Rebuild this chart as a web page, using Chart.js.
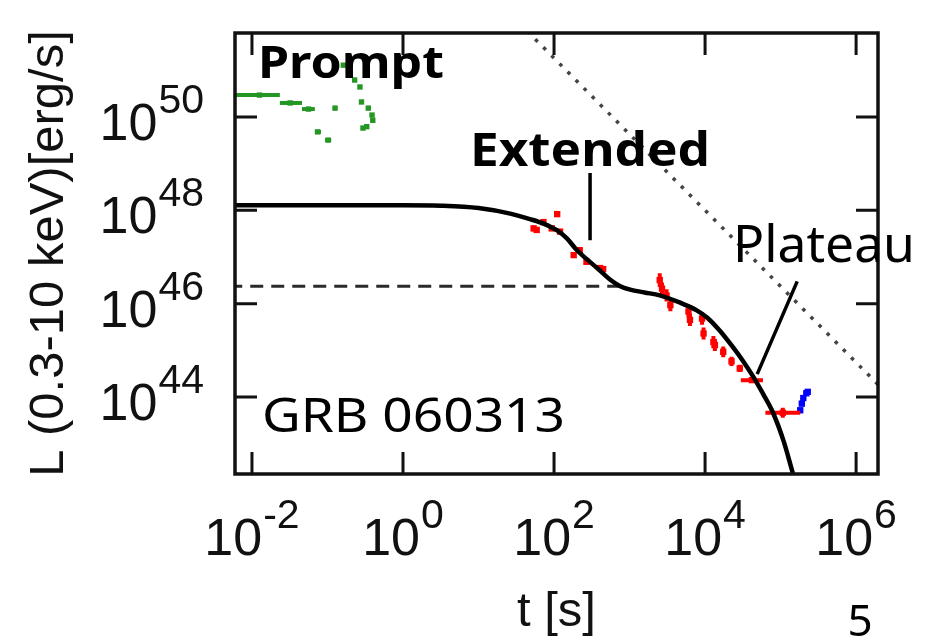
<!DOCTYPE html>
<html>
<head>
<meta charset="utf-8">
<title>GRB 060313 light curve</title>
<script src="https://cdn.jsdelivr.net/npm/chart.js@4.4.1/dist/chart.umd.min.js"></script>
<style>
  html, body { margin: 0; padding: 0; background: #fff; }
  #wrap { width: 937px; height: 639px; }
</style>
</head>
<body>
<div id="wrap"><canvas id="lc" width="937" height="639"></canvas></div>
<script>
// axis range and ticks (every two decades)
const xMin = 5.96e-3, xMax = 1.95e6;
const yMin = 2.24e42, yMax = 6.31e51;
const xTicks = [1e-2, 1, 1e2, 1e4, 1e6];
const xTickExp = ['-2', '0', '2', '4', '6'];
const yTicks = [1e44, 1e46, 1e48, 1e50];
const yTickExp = ['44', '46', '48', '50'];

// BAT prompt emission (green)
const batTime   = [1.26e-2, 3.2e-2, 5.6e-2, 7.4e-2, 1.02e-1, 1.26e-1, 1.62e-1, 2.0e-1, 2.29e-1, 2.69e-1, 2.82e-1, 3.47e-1, 3.89e-1, 3.98e-1, 3.31e-1, 2.95e-1];
const batTimeLo = [5.0e-3, 2.34e-2, 4.6e-2, 6.8e-2, 9.3e-2, 1.18e-1, 1.55e-1, 1.92e-1, 2.2e-1, 2.6e-1, 2.75e-1, 3.37e-1, 3.78e-1, 3.87e-1, 3.2e-1, 2.86e-1];
const batTimeHi = [2.34e-2, 4.6e-2, 6.8e-2, 8.2e-2, 1.12e-1, 1.34e-1, 1.7e-1, 2.08e-1, 2.38e-1, 2.78e-1, 2.9e-1, 3.57e-1, 4.0e-1, 4.1e-1, 3.42e-1, 3.04e-1];
const batLum    = [2.95e50, 2.0e50, 1.48e50, 4.8e49, 3.2e49, 1.55e50, 1.29e51, 8.5e50, 6.2e50, 4.4e50, 2.1e50, 1.55e50, 1.1e50, 8.5e49, 6.2e49, 5.8e49];

// XRT (red); error bars as multiplicative factors
const xrtTime    = [53.7, 58.9, 72.4, 110, 93.3, 120, 182, 219, 269, 407, 447, 2510, 2690, 3090, 3470, 6030, 6310, 9120, 9550, 12900, 13500, 17400, 22400, 28800, 41700, 107000];
const xrtLum     = [4.1e47, 3.8e47, 5.6e47, 8.3e47, 4.1e47, 3.5e47, 1.1e47, 1.4e47, 7.9e46, 5.8e46, 5.5e46, 3.2e46, 2.1e46, 1.5e46, 9.3e45, 6.8e45, 4.5e45, 4.8e45, 2.3e45, 1.5e45, 1.3e45, 9.3e44, 5.8e44, 4.1e44, 2.3e44, 4.6e43];
const xrtTimeErr = [1.07, 1.07, 1.07, 1.06, 1.06, 1.06, 1.06, 1.06, 1.06, 1.06, 1.06, 1.05, 1.05, 1.05, 1.05, 1.04, 1.04, 1.04, 1.04, 1.04, 1.04, 1.04, 1.04, 1.04, 1.4, 1.7];
const xrtLumErr  = [1.15, 1.15, 1.12, 1.12, 1.12, 1.12, 1.15, 1.15, 1.15, 1.12, 1.12, 1.4, 1.35, 1.35, 1.35, 1.35, 1.35, 1.35, 1.35, 1.35, 1.35, 1.3, 1.25, 1.2, 1.05, 1.28];

// UVOT-era late points (blue)
const uvotTime = [182000, 191000, 200000, 219000, 229000];
const uvotLum  = [5.2e43, 7.2e43, 9.5e43, 1.2e44, 1.29e44];

// model: extended emission + plateau (solid)
const modelTime = [5.0e-3, 1, 3.16, 10, 26.3, 47.9, 72.4, 110, 148, 200, 269, 372, 550, 741, 1020, 1580, 2510, 4680, 7760, 10700, 15800, 23400, 31600, 43600, 58900, 79400, 110000, 148000, 178000];
const modelLum  = [1.29e48, 1.29e48, 1.26e48, 1.12e48, 8.5e47, 6.5e47, 5.2e47, 3.7e47, 2.5e47, 1.41e47, 9.1e46, 5.8e46, 3.3e46, 2.4e46, 2.0e46, 1.74e46, 1.51e46, 1.05e46, 7.2e45, 5.0e45, 2.6e45, 1.17e45, 6.0e44, 2.7e44, 1.15e44, 4.6e43, 1.12e43, 2.1e42, 7.9e41];

// plateau component alone (dashed) and t^-5/3 fallback line (dotted)
const plateauTime = [5.0e-3, 741];
const plateauLum  = [2.35e46, 2.35e46];
const fallbackTime = [10, 1e7];
const fallbackLum  = [7.8e52, 1.29e43];

const pts = (xs, ys) => xs.map((v, i) => ({ x: v, y: ys[i] }));

const batErrors = batTime.map((t, i) => ({ xLo: batTimeLo[i], xHi: batTimeHi[i], yLo: batLum[i], yHi: batLum[i] }));
const xrtErrors = xrtTime.map((t, i) => ({
  xLo: t / xrtTimeErr[i], xHi: t * xrtTimeErr[i],
  yLo: xrtLum[i] / xrtLumErr[i], yHi: xrtLum[i] * xrtLumErr[i]
}));

// error bars, drawn just under each dataset's own points
const errorBars = {
  id: 'errorBars',
  beforeDatasetDraw(chart, args) {
    const ds = chart.data.datasets[args.index];
    if (!ds.errors) return;
    const { ctx, chartArea: a, scales: { x, y } } = chart;
    ctx.save();
    ctx.beginPath();
    ctx.rect(a.left, a.top, a.right - a.left, a.bottom - a.top);
    ctx.clip();
    ctx.strokeStyle = ds.backgroundColor;
    ctx.lineWidth = ds.errorWidth;
    ds.data.forEach((p, i) => {
      const e = ds.errors[i];
      const px = x.getPixelForValue(p.x), py = y.getPixelForValue(p.y);
      ctx.beginPath();
      ctx.moveTo(x.getPixelForValue(e.xLo), py);
      ctx.lineTo(x.getPixelForValue(e.xHi), py);
      if (e.yLo !== e.yHi) {
        ctx.moveTo(px, y.getPixelForValue(e.yLo));
        ctx.lineTo(px, y.getPixelForValue(e.yHi));
      }
      ctx.stroke();
    });
    ctx.restore();
  }
};

// 10^n label with a raised exponent
function powerLabel(ctx, exp, x, baseY, align) {
  ctx.font = '52px "Liberation Sans", Arial, sans-serif';
  const w1 = ctx.measureText('10').width;
  ctx.font = '41px "Liberation Sans", Arial, sans-serif';
  const w2 = ctx.measureText(exp).width;
  const total = w1 + w2 + 1;
  const left = align === 'center' ? x - total / 2 : x - total;
  ctx.textAlign = 'left';
  ctx.textBaseline = 'alphabetic';
  ctx.font = '52px "Liberation Sans", Arial, sans-serif';
  ctx.fillText('10', left, baseY);
  ctx.font = '41px "Liberation Sans", Arial, sans-serif';
  ctx.fillText(exp, left + w1 + 1, baseY - 27);
}

// text squeezed or stretched to a given width
function fitText(ctx, text, font, left, baseY, width) {
  ctx.font = font;
  const w = ctx.measureText(text).width;
  ctx.save();
  ctx.translate(left, baseY);
  ctx.scale(width / w, 1);
  ctx.textAlign = 'left';
  ctx.textBaseline = 'alphabetic';
  ctx.fillText(text, 0, 0);
  ctx.restore();
}

// frame, inward ticks, tick labels, titles and annotations
const frame = {
  id: 'frame',
  afterDraw(chart) {
    const { ctx, chartArea: a, scales: { x, y } } = chart;
    ctx.save();
    ctx.strokeStyle = '#111';
    ctx.lineWidth = 3.5;
    ctx.strokeRect(a.left, a.top, a.right - a.left, a.bottom - a.top);

    const len = 22;
    ctx.lineWidth = 3;
    ctx.beginPath();
    xTicks.forEach(v => {
      const px = x.getPixelForValue(v);
      ctx.moveTo(px, a.bottom); ctx.lineTo(px, a.bottom - len);
      ctx.moveTo(px, a.top); ctx.lineTo(px, a.top + len);
    });
    yTicks.forEach(v => {
      const py = y.getPixelForValue(v);
      ctx.moveTo(a.left, py); ctx.lineTo(a.left + len, py);
      ctx.moveTo(a.right, py); ctx.lineTo(a.right - len, py);
    });
    ctx.stroke();

    ctx.fillStyle = '#111';
    xTicks.forEach((v, i) => powerLabel(ctx, xTickExp[i], x.getPixelForValue(v), a.bottom + 81, 'center'));
    yTicks.forEach((v, i) => powerLabel(ctx, yTickExp[i], a.left - 31, y.getPixelForValue(v) + 23, 'right'));

    // axis titles
    ctx.font = '49px "Liberation Sans", Arial, sans-serif';
    ctx.textAlign = 'center';
    ctx.textBaseline = 'alphabetic';
    ctx.fillText('t [s]', (a.left + a.right) / 2, 626);
    ctx.save();
    ctx.translate(63, (a.top + a.bottom) / 2);
    ctx.rotate(-Math.PI / 2);
    ctx.fillText('L (0.3-10 keV)[erg/s]', 0, 0);
    ctx.restore();

    // annotations
    ctx.fillStyle = '#000';
    fitText(ctx, 'Prompt', 'bold 45px "Noto Sans", sans-serif', 258, 78, 186);
    fitText(ctx, 'Extended', 'bold 46px "Noto Sans", sans-serif', 470, 166, 240);
    fitText(ctx, 'Plateau', '51px "Noto Sans", sans-serif', 733, 262, 182);
    fitText(ctx, 'GRB 060313', '48px "Noto Sans", sans-serif', 262, 432, 303);

    ctx.strokeStyle = '#000';
    ctx.lineWidth = 3.5;
    ctx.beginPath();
    ctx.moveTo(x.getPixelForValue(300), y.getPixelForValue(6.3e48));
    ctx.lineTo(x.getPixelForValue(300), y.getPixelForValue(2.3e47));
    ctx.moveTo(x.getPixelForValue(166000), y.getPixelForValue(3.0e46));
    ctx.lineTo(x.getPixelForValue(49000), y.getPixelForValue(3.1e44));
    ctx.stroke();

    // page number
    ctx.font = '44px "Noto Sans", sans-serif';
    ctx.textAlign = 'center';
    ctx.fillText('5', 860, 636);
    ctx.restore();
  }
};

new Chart(document.getElementById('lc'), {
  type: 'scatter',
  data: {
    datasets: [
      {
        type: 'line', data: pts(modelTime, modelLum),
        borderColor: '#000', borderWidth: 4.5, pointRadius: 0,
        cubicInterpolationMode: 'monotone', fill: false
      },
      {
        data: pts(xrtTime, xrtLum), errors: xrtErrors, errorWidth: 4,
        backgroundColor: '#ff0000', borderWidth: 0, pointStyle: 'rect', pointRadius: 4.5
      },
      {
        data: pts(uvotTime, uvotLum),
        backgroundColor: '#0000ff', borderWidth: 0, pointStyle: 'rect', pointRadius: 4.5
      },
      {
        data: pts(batTime, batLum), errors: batErrors, errorWidth: 4,
        backgroundColor: '#239623', borderWidth: 0, pointStyle: 'rect', pointRadius: 3.8
      },
      {
        type: 'line', data: pts(plateauTime, plateauLum),
        borderColor: '#2a2a2a', borderWidth: 3, borderDash: [13, 8], pointRadius: 0, fill: false
      },
      {
        type: 'line', data: pts(fallbackTime, fallbackLum),
        borderColor: '#444', borderWidth: 3.5, borderDash: [3.5, 8], pointRadius: 0, fill: false
      }
    ]
  },
  options: {
    responsive: false,
    devicePixelRatio: 1,
    animation: false,
    events: [],
    layout: { padding: { left: 235, top: 33, right: 59, bottom: 165 } },
    plugins: { legend: { display: false }, tooltip: { enabled: false } },
    scales: {
      x: { type: 'logarithmic', min: xMin, max: xMax, display: false },
      y: { type: 'logarithmic', min: yMin, max: yMax, display: false }
    }
  },
  plugins: [errorBars, frame]
});
</script>
</body>
</html>
